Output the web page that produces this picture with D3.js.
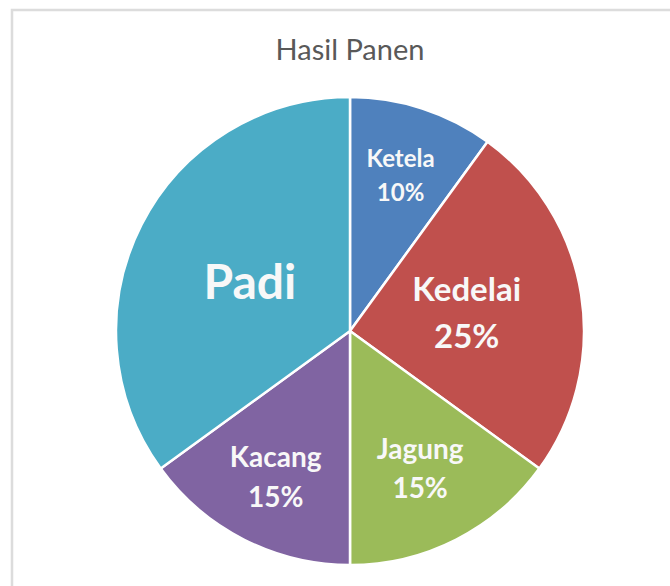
<!DOCTYPE html>
<html><head><meta charset="utf-8">
<script src="https://cdn.jsdelivr.net/npm/d3@7"></script>
<style>html,body{margin:0;padding:0;background:#fff;}svg{display:block;}</style>
</head><body>
<script>
const categories = ["Ketela", "Kedelai", "Jagung", "Kacang", "Padi"];
const values = [10, 25, 15, 15, 35];
const showPercent = [true, true, true, true, false];
const colors = ["#4f81bd", "#c0504d", "#9bbb59", "#8064a2", "#4bacc6"];
const title = "Hasil Panen";

// label layout (radius fraction, font size) per slice
const labelRadius = [0.70, 0.505, 0.66, 0.70, 0.48];
const labelSize = [24, 33, 28, 28, 48];

const W = 670, H = 586;
const svg = d3.select("body").append("svg").attr("width", W).attr("height", H);

// frame
svg.append("path").attr("d", "M12,586 L12,10 L670,10")
  .attr("fill", "none").attr("stroke", "#dcdcdc").attr("stroke-width", 2.5);

svg.append("text").attr("x", 350).attr("y", 60).attr("text-anchor", "middle")
  .attr("font-family", "Lato, 'Open Sans', sans-serif").attr("font-size", 29)
  .attr("fill", "#595959").text(title);

const cx = 350, cy = 331, R = 234;
const g = svg.append("g").attr("transform", `translate(${cx},${cy})`);
const data = categories.map((c, i) => ({ name: c, value: values[i], i }));
const pie = d3.pie().value(d => d.value).sort(null);
const arc = d3.arc().innerRadius(0).outerRadius(R);
const arcs = pie(data);

g.selectAll("path.slice").data(arcs).enter().append("path")
  .attr("class", "slice").attr("d", arc)
  .attr("fill", d => colors[d.data.i])
  .attr("stroke", "#fff").attr("stroke-width", 2.5).attr("stroke-linejoin", "round");

const total = d3.sum(values);
arcs.forEach(d => {
  const i = d.data.i;
  const a = (d.startAngle + d.endAngle) / 2;
  const r = R * labelRadius[i];
  const x = Math.sin(a) * r, y = -Math.cos(a) * r;
  const fs = labelSize[i];
  const t = g.append("text").attr("x", x).attr("y", y).attr("text-anchor", "middle")
    .attr("font-family", "Lato, 'Open Sans', sans-serif").attr("font-weight", "bold")
    .attr("font-size", fs).attr("fill", "#f8f8f8");
  if (showPercent[i]) {
    const lh = fs * 1.4;
    t.append("tspan").attr("x", x).attr("dy", -lh / 2 + fs * 0.36).text(d.data.name);
    t.append("tspan").attr("x", x).attr("dy", lh).text(Math.round(d.data.value / total * 100) + "%");
  } else {
    t.attr("dy", fs * 0.4).text(d.data.name);
  }
});
</script>
</body></html>
